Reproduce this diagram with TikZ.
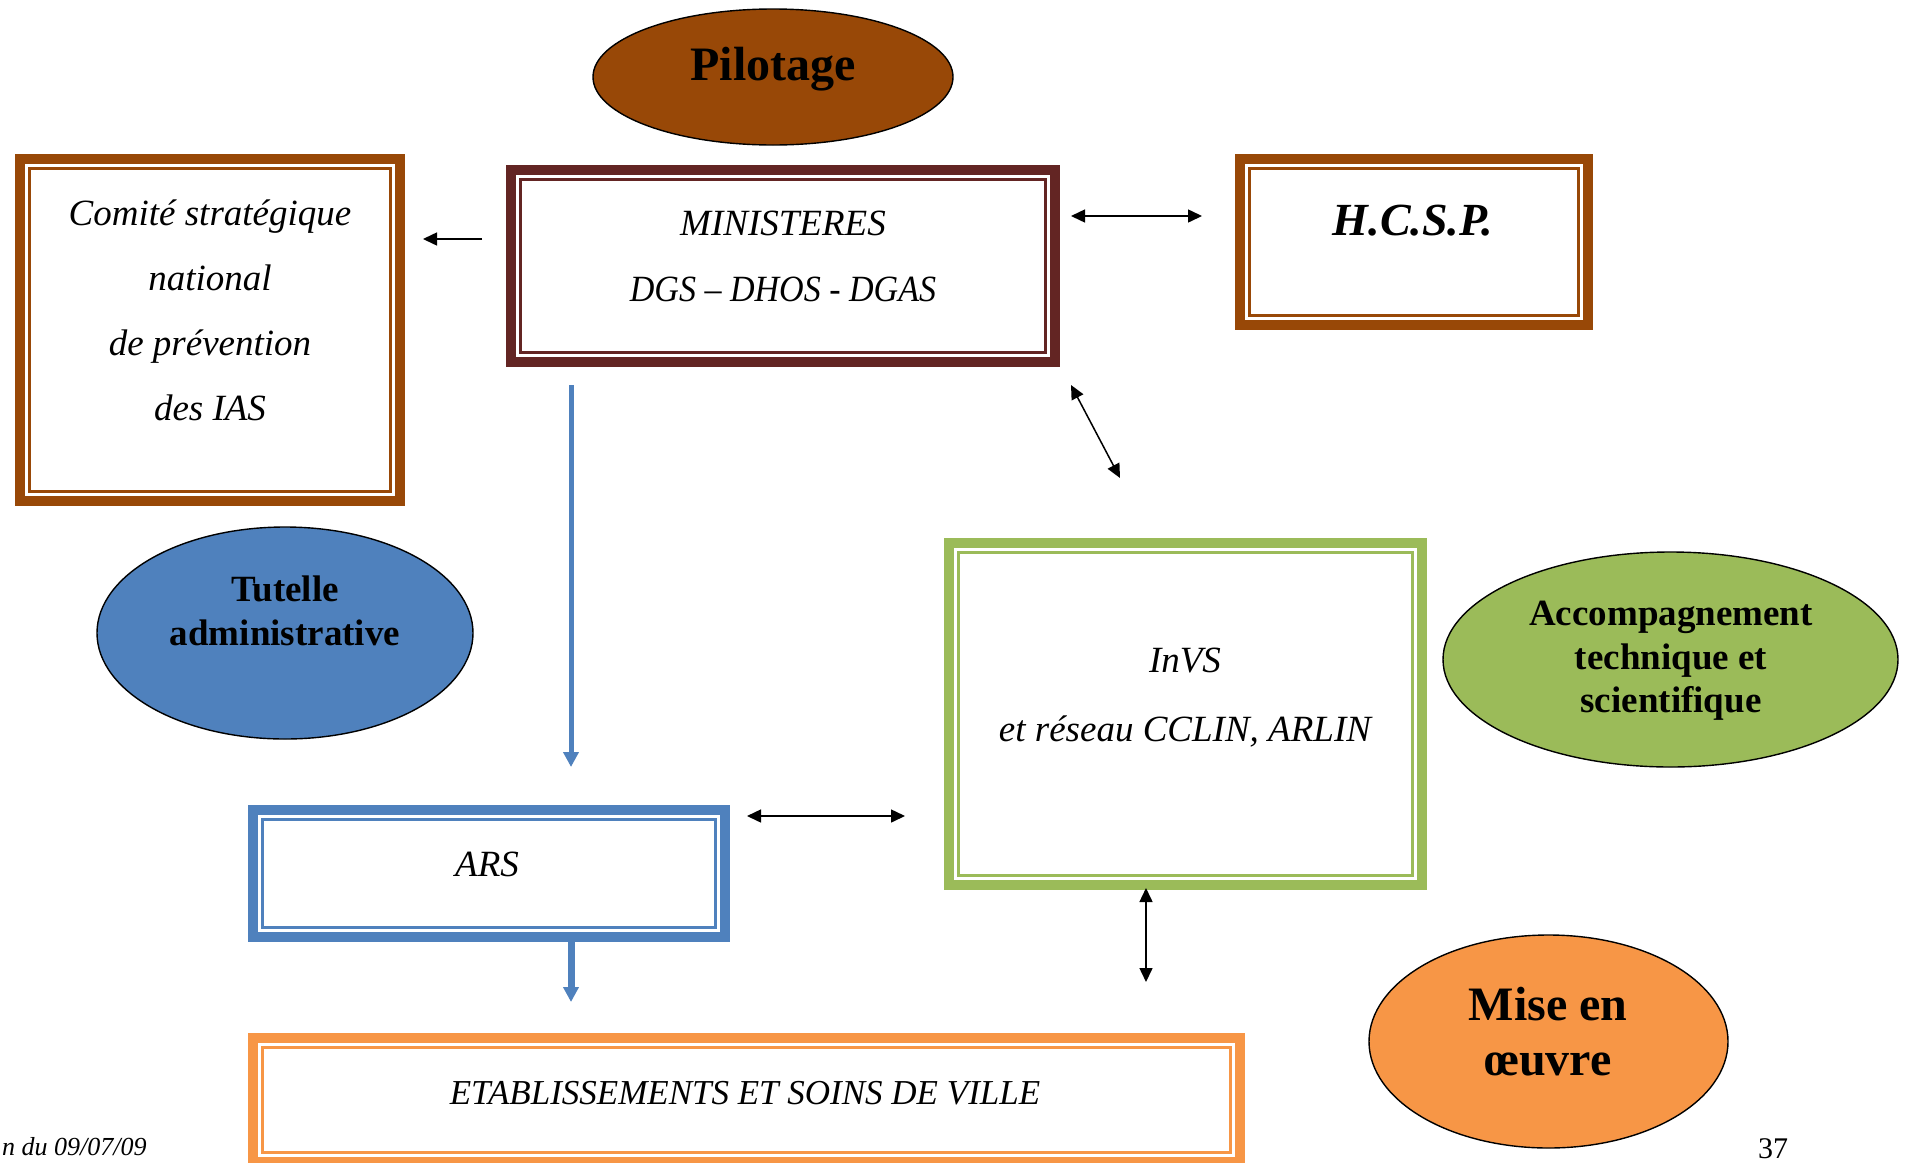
\documentclass[tikz,border=0pt]{standalone}
\usepackage{fontspec}
\setmainfont{Liberation Serif}
\usetikzlibrary{arrows.meta,shapes.geometric}
\definecolor{brownC}{HTML}{984807}
\definecolor{wineC}{HTML}{632523}
\definecolor{blueC}{HTML}{4F81BD}
\definecolor{greenC}{HTML}{9BBB59}
\definecolor{orangeC}{HTML}{F79646}
\begin{document}
\begin{tikzpicture}[x=1pt,y=-1pt,
  frame/.style={rectangle, draw=#1, line width=10pt, fill=white, inner sep=0pt, outer sep=0pt},
  innerline/.style={draw=#1, line width=3pt},
  oval/.style={ellipse, draw=black, line width=1.4pt, fill=#1, inner sep=0pt},
  itxt/.style={align=center, inner sep=0pt, font=\fontsize{37}{65}\selectfont\itshape},
  btxt/.style={align=center, inner sep=0pt, font=\fontsize{37}{44}\selectfont\bfseries},
  ptxt/.style={inner sep=0pt},
  blk/.style={line width=1.5pt, draw=black},
  >={Triangle[length=14pt,width=13pt]},
  bluearr/.style={draw=blueC, line width=#1, -{Triangle[length=15pt,width=15pt]}}
]
\fill[white] (0,0) rectangle (1910,1162);
\useasboundingbox (0,0) rectangle (1910,1162);

% frames
\node[frame=brownC, minimum width=380pt, minimum height=342pt] (com) at (210,330) {};
\node[frame=wineC, minimum width=544pt, minimum height=192pt] (min) at (783,266) {};
\node[frame=brownC, minimum width=348pt, minimum height=166pt] (hcsp) at (1414,242) {};
\node[frame=greenC, minimum width=473pt, minimum height=342pt] (invs) at (1185.5,714) {};
\node[frame=blueC, minimum width=472pt, minimum height=127pt] (ars) at (489,873.5) {};
\node[frame=orangeC, minimum width=987pt, minimum height=124pt] (etab) at (746.5,1100) {};

\foreach \n/\c in {com/brownC, min/wineC, hcsp/brownC, invs/greenC, ars/blueC, etab/orangeC}
  \draw[innerline=\c] ([shift={(9.5,9.5)}]\n.north west) rectangle ([shift={(-9.5,-9.5)}]\n.south east);

% ellipses
\node[oval=brownC, minimum width=360pt, minimum height=136pt] (pil) at (773,77) {};
\node[oval=blueC, minimum width=376pt, minimum height=212pt] (tut) at (285,633) {};
\node[oval=greenC, minimum width=455pt, minimum height=215pt] (acc) at (1670.5,659.5) {};
\node[oval=orangeC, minimum width=359pt, minimum height=213pt] (mise) at (1548.5,1041.5) {};

% texts
\node[itxt] (comT) at (210,310) {Comité stratégique\\national\\de prévention\\des IAS};
\node[itxt, font=\fontsize{37}{66}\selectfont\itshape] (minT) at (783,256) {MINISTERES\\\scalebox{0.92}[1]{DGS – DHOS - DGAS}};
\node[ptxt, anchor=base, font=\fontsize{46}{50}\selectfont\bfseries\itshape] (hcspT) at (1413,235) {H.C.S.P.};
\node[ptxt, anchor=base, font=\fontsize{37}{40}\selectfont\itshape] (arsT) at (487,876) {ARS};
\node[itxt, font=\fontsize{37}{69}\selectfont\itshape] (invsT) at (1185,698) {InVS\\et réseau CCLIN, ARLIN};
\node[ptxt, anchor=base, font=\fontsize{35}{40}\selectfont\itshape] (etabT) at (745,1104) {ETABLISSEMENTS ET SOINS DE VILLE};
\node[ptxt, anchor=base, font=\fontsize{48}{50}\selectfont\bfseries] (pilT) at (773,80) {Pilotage};
\node[btxt] (tutT) at (285,611) {Tutelle\\administrative};
\node[btxt, font=\fontsize{37}{43.5}\selectfont\bfseries] (accT) at (1671,661) {Accompagnement\\technique et\\scientifique};
\node[btxt, font=\fontsize{48}{55}\selectfont\bfseries] (miseT) at (1548,1031.5) {Mise en\\œuvre};
\node[ptxt, anchor=base west, font=\fontsize{26}{30}\selectfont\itshape] (foot) at (2,1155) {n du 09/07/09};
\node[ptxt, anchor=base, font=\fontsize{30}{32}\selectfont] (page) at (1773,1158) {37};

% connectors
\draw[blk, ->] ([shift={(-29,-27)}]min.west) -- ([shift={(23,-91)}]com.east);
\draw[blk, <->] ([shift={(16,-50)}]min.east) -- ([shift={(-38,-26)}]hcsp.west);
\draw[blk, <->] ([shift={(16,23)}]min.south east) -- ([shift={(171,-65)}]invs.north west);
\draw[bluearr=5pt] ([shift={(60,23)}]min.south west) -- ([shift={(318,-43)}]ars.north west);
\draw[blk, <->] ([shift={(22,6)}]ars.north east) -- ([shift={(-44,-69)}]invs.south west);
\draw[bluearr=7pt] ([shift={(318,0)}]ars.south west) -- ([shift={(318,-36)}]etab.north west);
\draw[blk, <->] ([shift={(197,3)}]invs.south west) -- ([shift={(197,97)}]invs.south west);
\end{tikzpicture}
\end{document}
